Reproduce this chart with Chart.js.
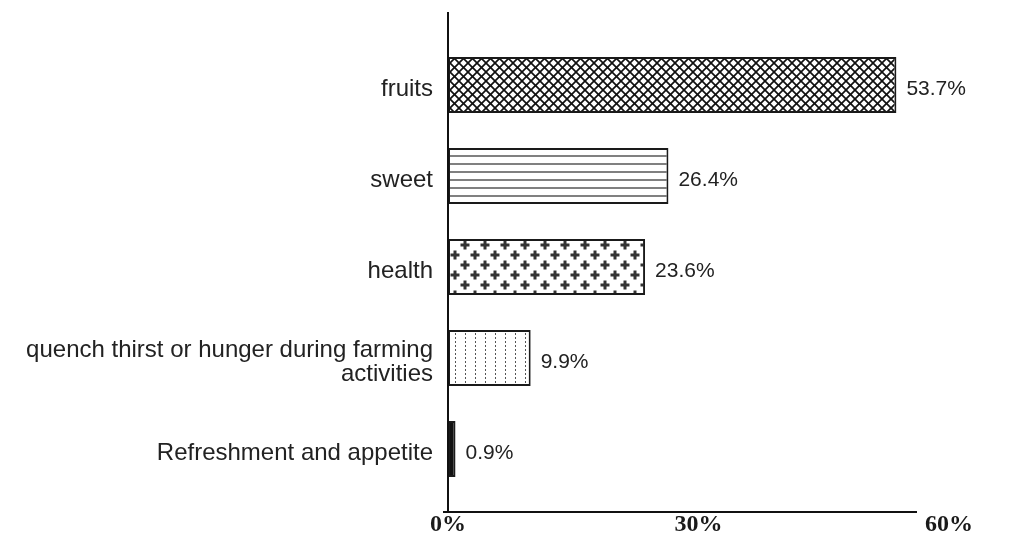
<!DOCTYPE html>
<html>
<head>
<meta charset="utf-8">
<script src="https://cdn.jsdelivr.net/npm/chart.js@4/dist/chart.umd.min.js"></script>
<style>
html,body{margin:0;padding:0;background:#fff;}
canvas{display:block;}
</style>
</head>
<body>
<canvas id="c" width="1019" height="540"></canvas>
<script>
const categories = [
  "fruits",
  "sweet",
  "health",
  ["quench thirst or hunger during farming", "activities"],
  "Refreshment and appetite"
];
const values = [53.7, 26.4, 23.6, 9.9, 0.9];
const valueLabels = ["53.7%", "26.4%", "23.6%", "9.9%", "0.9%"];
const xTicks = [0, 30, 60];
const xTickLabels = ["0%", "30%", "60%"];

const canvas = document.getElementById('c');
const ctx = canvas.getContext('2d');

function tile(w, h, draw) {
  const t = document.createElement('canvas');
  t.width = w; t.height = h;
  const g = t.getContext('2d');
  g.fillStyle = '#fff';
  g.fillRect(0, 0, w, h);
  draw(g);
  return ctx.createPattern(t, 'repeat');
}

const pCross = tile(9, 9, g => {
  g.strokeStyle = '#111';
  g.lineWidth = 1.7;
  for (let k = -1; k <= 1; k++) {
    g.beginPath(); g.moveTo(k * 9 - 1, -1); g.lineTo(k * 9 + 10, 10); g.stroke();
    g.beginPath(); g.moveTo(k * 9 + 10, -1); g.lineTo(k * 9 - 1, 10); g.stroke();
  }
});
const pHoriz = tile(8, 8, g => {
  g.fillStyle = '#808080';
  g.fillRect(0, 3, 8, 2);
});
const pPlus = tile(20, 20, g => {
  g.fillStyle = '#333';
  [[5, 5], [15, 15]].forEach(([cx, cy]) => {
    g.fillRect(cx - 4.5, cy - 1.5, 9, 3);
    g.fillRect(cx - 1.5, cy - 4.5, 3, 9);
  });
});
const pDots = tile(10, 4, g => {
  g.fillStyle = '#555';
  g.fillRect(5, 1, 1, 2);
});
const fills = [pCross, pHoriz, pPlus, pDots, '#111'];

const axisLines = {
  id: 'axisLines',
  afterDatasetsDraw(chart) {
    const c = chart.ctx;
    const xs = chart.scales.x;
    const x0 = xs.getPixelForValue(0);
    c.save();
    c.strokeStyle = '#111';
    c.lineWidth = 2;
    c.beginPath();
    c.moveTo(x0, 12); c.lineTo(x0, 511);
    c.stroke();
    c.beginPath();
    c.moveTo(x0 - 5, 512); c.lineTo(917, 512);
    c.stroke();
    c.restore();
  }
};

const barValueLabels = {
  id: 'barValueLabels',
  afterDatasetsDraw(chart) {
    const c = chart.ctx;
    const meta = chart.getDatasetMeta(0);
    c.save();
    c.font = '21px "Liberation Sans", Arial, sans-serif';
    c.fillStyle = '#222';
    c.textAlign = 'left';
    c.textBaseline = 'middle';
    meta.data.forEach((bar, i) => {
      c.fillText(valueLabels[i], bar.x + 10, bar.y + 4);
    });
    c.restore();
  }
};

new Chart(ctx, {
  type: 'bar',
  data: {
    labels: categories,
    datasets: [{
      data: values,
      backgroundColor: fills,
      borderColor: '#1a1a1a',
      borderWidth: 2,
      borderSkipped: false,
      barPercentage: 0.615,
      categoryPercentage: 1
    }]
  },
  options: {
    indexAxis: 'y',
    responsive: false,
    animation: false,
    devicePixelRatio: 1,
    layout: { padding: { top: 39.5, right: 70, left: 0, bottom: 0 } },
    plugins: {
      legend: { display: false },
      tooltip: { enabled: false }
    },
    scales: {
      x: {
        min: 0,
        max: 60,
        grid: { display: false, drawTicks: false },
        border: { display: false },
        afterBuildTicks(scale) {
          scale.ticks = xTicks.map(v => ({ value: v }));
        },
        afterFit(scale) { scale.height = 45.5; },
        ticks: {
          padding: 16,
          color: '#1a1a1a',
          font: { family: '"Liberation Serif", "Times New Roman", serif', size: 24, weight: 'bold' },
          callback(v) {
            const i = xTicks.indexOf(v);
            return i >= 0 ? xTickLabels[i] : '';
          }
        }
      },
      y: {
        grid: { display: false, drawTicks: false },
        border: { display: false },
        afterFit(scale) { scale.width = 448; },
        ticks: {
          padding: 15,
          labelOffset: 4,
          color: '#222',
          font: { family: '"Liberation Sans", Arial, sans-serif', size: 24, lineHeight: 1.0 }
        }
      }
    }
  },
  plugins: [axisLines, barValueLabels]
});
</script>
</body>
</html>
